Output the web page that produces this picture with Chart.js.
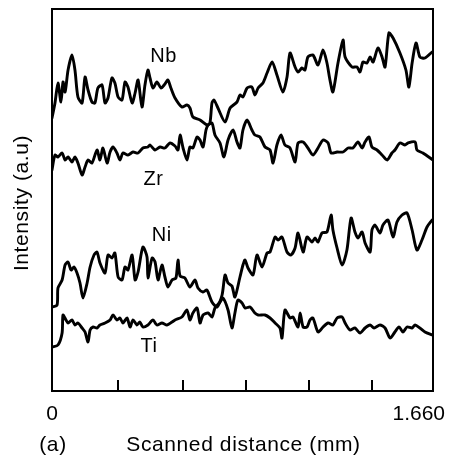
<!DOCTYPE html>
<html>
<head>
<meta charset="utf-8">
<script src="https://cdn.jsdelivr.net/npm/chart.js@4.4.1/dist/chart.umd.min.js"></script>
<style>
  html, body { margin: 0; padding: 0; background: #fff; }
  #wrap { width: 449px; height: 456px; position: relative; }
</style>
</head>
<body>
<div id="wrap"><canvas id="scan"></canvas></div>
<script>
// Line scan across the joint: [distance mm, intensity a.u.]
const nbTrace = [[0,273],[0.013,288],[0.026,308],[0.039,289],[0.048,309],[0.057,299],[0.070,321],[0.087,336],[0.100,321],[0.113,294],[0.131,288],[0.144,314],[0.157,301],[0.174,289],[0.187,288],[0.200,303],[0.218,306],[0.231,288],[0.244,293],[0.261,313],[0.274,308],[0.288,294],[0.305,291],[0.318,309],[0.331,304],[0.349,288],[0.362,298],[0.375,311],[0.392,284],[0.405,306],[0.418,321],[0.427,313],[0.440,303],[0.457,309],[0.475,303],[0.492,307],[0.505,311],[0.518,303],[0.536,293],[0.566,284],[0.588,286],[0.601,283],[0.614,274],[0.645,271],[0.675,266],[0.688,268],[0.697,288],[0.706,291],[0.723,283],[0.754,269],[0.776,283],[0.806,289],[0.819,296],[0.832,294],[0.850,303],[0.871,304],[0.884,296],[0.898,303],[0.919,308],[0.937,318],[0.959,329],[0.980,316],[1.006,299],[1.024,314],[1.037,338],[1.059,324],[1.072,319],[1.089,323],[1.102,321],[1.115,334],[1.137,336],[1.159,326],[1.181,341],[1.198,328],[1.211,311],[1.224,299],[1.246,328],[1.268,351],[1.277,334],[1.307,324],[1.329,324],[1.342,319],[1.355,329],[1.372,328],[1.386,334],[1.399,329],[1.420,343],[1.438,334],[1.451,324],[1.468,358],[1.486,353],[1.516,338],[1.542,321],[1.555,304],[1.569,328],[1.586,348],[1.603,334],[1.625,333],[1.656,339]];
const zrTrace = [[0,221],[0.013,236],[0.026,234],[0.044,238],[0.057,231],[0.070,234],[0.087,229],[0.100,234],[0.113,228],[0.131,216],[0.144,224],[0.157,231],[0.174,228],[0.196,241],[0.209,231],[0.222,243],[0.240,228],[0.253,239],[0.266,244],[0.283,238],[0.296,231],[0.309,238],[0.331,236],[0.353,239],[0.375,238],[0.396,243],[0.418,244],[0.427,246],[0.449,241],[0.471,244],[0.492,243],[0.514,248],[0.536,245],[0.549,241],[0.558,256],[0.571,243],[0.588,231],[0.601,244],[0.614,243],[0.632,254],[0.645,251],[0.658,244],[0.671,261],[0.680,266],[0.697,268],[0.710,256],[0.732,248],[0.749,234],[0.767,251],[0.789,261],[0.806,249],[0.819,243],[0.832,261],[0.850,271],[0.871,261],[0.884,256],[0.906,254],[0.928,244],[0.950,241],[0.963,228],[0.980,246],[0.998,256],[1.015,246],[1.037,243],[1.059,229],[1.072,248],[1.094,249],[1.115,243],[1.137,236],[1.159,243],[1.181,251],[1.203,248],[1.216,238],[1.242,239],[1.268,239],[1.290,243],[1.311,243],[1.333,249],[1.351,243],[1.364,249],[1.381,254],[1.394,244],[1.416,241],[1.438,236],[1.460,231],[1.481,238],[1.494,241],[1.516,248],[1.538,246],[1.551,248],[1.582,249],[1.590,241],[1.616,238],[1.660,231]];
const niTrace = [[0,84],[0.022,86],[0.026,103],[0.044,111],[0.057,126],[0.070,129],[0.083,121],[0.096,124],[0.109,118],[0.122,108],[0.135,93],[0.153,108],[0.166,124],[0.183,136],[0.196,139],[0.209,128],[0.231,118],[0.244,136],[0.261,133],[0.274,138],[0.288,114],[0.305,111],[0.318,124],[0.331,121],[0.349,136],[0.362,111],[0.375,119],[0.396,144],[0.414,134],[0.418,113],[0.436,133],[0.449,129],[0.462,111],[0.479,126],[0.492,114],[0.505,104],[0.523,111],[0.540,113],[0.549,131],[0.558,115],[0.579,113],[0.601,104],[0.623,111],[0.636,103],[0.658,99],[0.675,101],[0.697,89],[0.719,84],[0.741,96],[0.754,116],[0.767,108],[0.784,105],[0.797,94],[0.819,114],[0.832,126],[0.841,131],[0.854,123],[0.876,116],[0.893,136],[0.915,124],[0.937,138],[0.950,139],[0.972,154],[0.985,151],[1.002,154],[1.024,139],[1.041,136],[1.059,143],[1.072,158],[1.094,139],[1.111,154],[1.133,149],[1.146,153],[1.159,149],[1.176,158],[1.198,159],[1.216,176],[1.224,161],[1.242,143],[1.264,126],[1.285,141],[1.303,173],[1.320,159],[1.333,153],[1.351,159],[1.364,148],[1.386,139],[1.394,161],[1.407,166],[1.429,158],[1.442,166],[1.464,171],[1.486,154],[1.503,169],[1.525,176],[1.547,178],[1.569,161],[1.590,141],[1.612,151],[1.634,164],[1.656,171]];
const tiTrace = [[0,44],[0.026,46],[0.044,58],[0.048,76],[0.061,71],[0.070,68],[0.087,71],[0.100,66],[0.113,68],[0.131,63],[0.144,59],[0.157,49],[0.166,61],[0.179,64],[0.196,63],[0.209,66],[0.231,68],[0.253,71],[0.266,76],[0.283,71],[0.296,73],[0.309,68],[0.327,73],[0.340,64],[0.353,71],[0.370,66],[0.383,69],[0.396,64],[0.418,66],[0.440,71],[0.457,66],[0.479,68],[0.501,66],[0.523,69],[0.536,71],[0.566,74],[0.588,81],[0.601,71],[0.614,78],[0.632,83],[0.645,68],[0.658,76],[0.680,78],[0.697,74],[0.710,83],[0.732,89],[0.745,93],[0.767,81],[0.784,63],[0.797,78],[0.810,91],[0.828,88],[0.841,83],[0.863,84],[0.884,78],[0.898,76],[0.928,76],[0.950,73],[0.972,68],[0.993,63],[1.002,53],[1.015,81],[1.037,73],[1.050,74],[1.072,64],[1.081,78],[1.094,64],[1.111,64],[1.124,71],[1.137,73],[1.159,59],[1.181,64],[1.203,68],[1.224,66],[1.242,73],[1.264,74],[1.277,68],[1.298,61],[1.320,63],[1.342,58],[1.364,63],[1.386,66],[1.403,63],[1.429,66],[1.451,63],[1.473,53],[1.494,59],[1.512,64],[1.529,59],[1.547,64],[1.569,63],[1.582,66],[1.603,63],[1.625,59],[1.656,56]];

const elements = ['Nb', 'Zr', 'Ni', 'Ti'];
const labelDist = [0.486, 0.442, 0.478, 0.423];
const labelInt = [335, 212, 156, 45];
const tickDist = [0.288, 0.569, 0.845, 1.120, 1.394];
const xEnds = ['0', '1.660'];

const traces = [nbTrace, zrTrace, niTrace, tiTrace];

const frame = {
  id: 'frame',
  afterDraw(chart) {
    const { ctx, chartArea: a, scales: { x, y } } = chart;
    ctx.save();
    ctx.strokeStyle = '#000';
    ctx.fillStyle = '#000';
    ctx.lineWidth = 2;
    ctx.strokeRect(a.left, a.top, a.right - a.left, a.bottom - a.top);
    // ticks point into the plot
    tickDist.forEach((v) => {
      const px = Math.round(x.getPixelForValue(v));
      ctx.beginPath();
      ctx.moveTo(px, a.bottom);
      ctx.lineTo(px, a.bottom - 11);
      ctx.stroke();
    });

    ctx.textBaseline = 'middle';
    ctx.font = '21px "Liberation Sans", Arial, sans-serif';
    ctx.textAlign = 'center';
    ctx.fillText(xEnds[0], x.getPixelForValue(0), a.bottom + 23);
    ctx.textAlign = 'right';
    ctx.fillText(xEnds[1], x.getPixelForValue(1.66) + 12, a.bottom + 23);

    ctx.letterSpacing = '0.6px';
    ctx.textAlign = 'center';
    ctx.fillText('(a)', 53, a.bottom + 54);
    ctx.fillText('Scanned distance (mm)', (a.left + a.right) / 2 + 1, a.bottom + 54);

    ctx.save();
    ctx.translate(22, (a.top + a.bottom) / 2 + 3);
    ctx.rotate(-Math.PI / 2);
    ctx.fillText('Intensity (a.u)', 0, 0);
    ctx.restore();

    ctx.font = '20px "Liberation Sans", Arial, sans-serif';
    elements.forEach((name, i) => {
      ctx.fillText(name, x.getPixelForValue(labelDist[i]), y.getPixelForValue(labelInt[i]));
    });
    ctx.restore();
  },
};

new Chart(document.getElementById('scan'), {
  type: 'line',
  data: {
    datasets: traces.map((t, i) => ({
      label: elements[i],
      data: t.map(([d, v]) => ({ x: d, y: v })),
      borderColor: '#000',
      borderWidth: 2.9,
      borderJoinStyle: 'round',
      borderCapStyle: 'round',
      pointRadius: 0,
      tension: 0.25,
      fill: false,
    })),
  },
  options: {
    responsive: true,
    maintainAspectRatio: false,
    animation: false,
    layout: { padding: { left: 52, top: 9, right: 16, bottom: 65 } },
    plugins: { legend: { display: false }, tooltip: { enabled: false } },
    scales: {
      x: { type: 'linear', display: false, min: 0, max: 1.66 },
      y: { display: false, min: 0, max: 382 },
    },
  },
  plugins: [frame],
});
</script>
</body>
</html>
